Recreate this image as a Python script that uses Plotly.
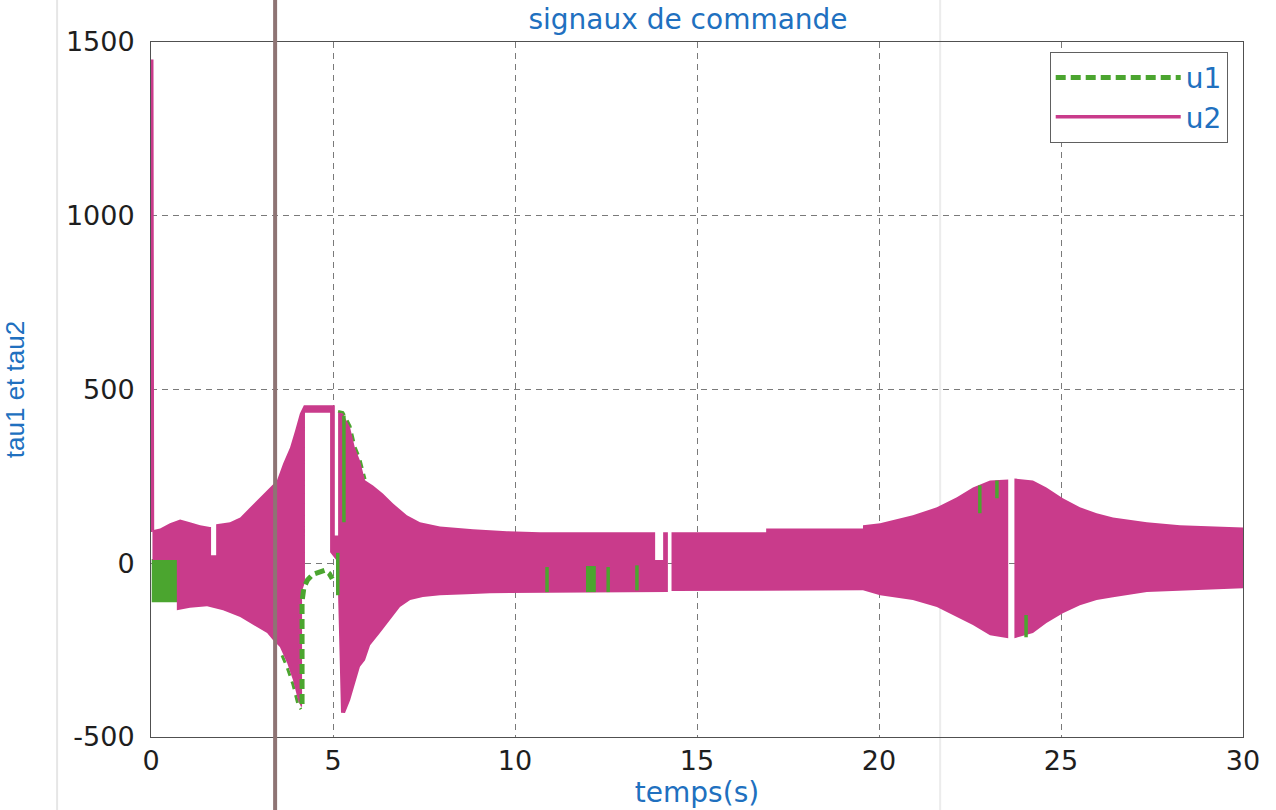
import plotly.graph_objects as go

# axis ticks
x_ticks = [0, 5, 10, 15, 20, 25, 30]
y_ticks = [-500, 0, 500, 1000, 1500]

# u2: envelope of the switching band, block 1 (0 -> 14.2 s)
u2_a_up_t = [0.04, 0.25, 0.52, 0.80, 1.07, 1.35, 1.62, 1.65, 1.65, 1.79, 1.79, 2.17, 2.45, 2.72, 2.99,
             3.27, 3.46, 3.63, 3.82, 3.96, 4.09, 4.20, 5.05, 5.05, 5.14, 5.14, 5.27, 5.47, 5.60, 5.74,
             5.88, 6.10, 6.37, 6.65, 7.03, 7.39, 7.94, 8.85, 9.78, 10.69, 13.85, 13.85, 14.07, 14.07, 14.20]
u2_a_up_v = [95, 100, 115, 126, 118, 109, 104, 104, 23, 23, 112, 118, 132, 161, 190,
             218, 238, 287, 333, 382, 431, 455, 455, 80, 80, 434, 431, 391, 333, 296,
             239, 224, 201, 172, 138, 118, 106, 98, 92, 89, 89, 9, 9, 89, 89]
u2_a_lo_t = [0.04, 0.71, 0.71, 1.07, 1.54, 1.98, 2.45, 2.91, 3.19, 3.35, 3.54, 3.74, 3.90, 4.04, 4.12,
             4.15, 4.15, 4.23, 4.23, 4.92, 4.92, 5.12, 5.14, 5.22, 5.33, 5.47, 5.60, 5.74, 5.88, 6.02,
             6.29, 6.57, 6.84, 7.12, 7.47, 7.94, 8.68, 9.31, 10.69, 14.20]
u2_a_lo_v = [9, 9, -135, -128, -124, -135, -155, -184, -201, -221, -241, -287, -336, -394, -413,
             -413, -80, -55, 433, 433, 32, 5, -92, -430, -431, -394, -345, -298, -279, -236,
             -201, -164, -126, -106, -97, -92, -89, -86, -86, -83]

# u2: block 2 (14.3 -> 23.55 s)
u2_b_up_t = [14.30, 16.90, 16.90, 19.56, 19.56, 20.03, 20.93, 21.59, 22.14, 22.58, 23.05, 23.55]
u2_b_up_v = [89, 89, 100, 100, 109, 115, 138, 161, 190, 218, 238, 241]
u2_b_lo_t = [14.30, 19.56, 20.03, 20.93, 21.59, 22.14, 22.58, 23.05, 23.55]
u2_b_lo_v = [-80, -78, -92, -106, -126, -155, -178, -207, -216]

# u2: block 3 (23.72 -> 30 s)
u2_c_up_t = [23.72, 24.23, 24.60, 25.05, 25.52, 25.98, 26.43, 27.36, 28.27, 29.18, 30.00]
u2_c_up_v = [244, 238, 218, 187, 161, 144, 132, 118, 109, 106, 103]
u2_c_lo_t = [23.72, 24.23, 24.60, 25.05, 25.52, 25.98, 26.43, 27.36, 28.27, 30.00]
u2_c_lo_v = [-216, -201, -172, -144, -121, -106, -98, -83, -78, -72]

# u2: initial peak
u2_spike_t = [0.0, 0.02, 0.04]
u2_spike_v = [90, 1450, 95]

# u1: band at start-up
u1_a_t = [0.02, 0.72]
u1_a_hi = [12, 12]
u1_a_lo = [-112, -112]

# u1: edges sticking out of the u2 band
u1_edge1_t = [3.60, 3.74, 3.90, 4.04, 4.12]
u1_edge1_v = [-265, -300, -349, -407, -420]
u1_edge2_t = [5.14, 5.27, 5.47, 5.60, 5.74, 5.88]
u1_edge2_v = [437, 434, 394, 336, 299, 242]

# u1: trajectory while u2 is saturated
u1_curve_t = [4.15, 4.15, 4.20, 4.30, 4.45, 4.62, 4.78, 4.90, 4.98]
u1_curve_v = [-405, -110, -70, -48, -32, -24, -20, -30, -45]

# u1: short excursions visible over u2
u1_frag_t = [5.13, 5.30, 10.88, 12.56, 13.35, 22.77, 23.24, 24.04]
u1_frag_lo = [-92, 118, -83, -83, -78, 144, 187, -213]
u1_frag_hi = [30, 425, -11, -11, -6, 224, 238, -149]

u1_b_t = [11.95, 12.22]
u1_b_hi = [-8, -8]
u1_b_lo = [-83, -83]

MAGENTA = "#c93b8b"
GREEN = "#4ba52f"
BLUE = "#2070bf"
TXT = "#1e1e1e"
FONT = "DejaVu Sans"


def band(up_t, up_v, lo_t, lo_v):
    xs = list(up_t) + list(lo_t)[::-1] + [up_t[0]]
    ys = list(up_v) + list(lo_v)[::-1] + [up_v[0]]
    return xs, ys


def join(*polys):
    xs, ys = [], []
    for px, py in polys:
        if xs:
            xs.append(None)
            ys.append(None)
        xs += px
        ys += py
    return xs, ys


fig = go.Figure()

# u1 start-up band (under u2)
bx, by = band(u1_a_t, u1_a_hi, u1_a_t, u1_a_lo)
fig.add_trace(go.Scatter(x=bx, y=by, mode="lines", fill="toself", fillcolor=GREEN,
                         line=dict(width=0, color=GREEN), showlegend=False, legendgroup="u1",
                         hoverinfo="skip"))

# u1 edges (under u2)
ex, ey = join((u1_edge1_t, u1_edge1_v), (u1_edge2_t, u1_edge2_v))
fig.add_trace(go.Scatter(x=ex, y=ey, mode="lines", line=dict(color=GREEN, width=3, dash="8px,6px"),
                         showlegend=False, legendgroup="u1", hoverinfo="skip"))

# u2 switching band
ux, uy = join(band(u2_a_up_t, u2_a_up_v, u2_a_lo_t, u2_a_lo_v),
              band(u2_b_up_t, u2_b_up_v, u2_b_lo_t, u2_b_lo_v),
              band(u2_c_up_t, u2_c_up_v, u2_c_lo_t, u2_c_lo_v))
fig.add_trace(go.Scatter(x=ux, y=uy, mode="lines", fill="toself", fillcolor=MAGENTA,
                         line=dict(width=0, color=MAGENTA), showlegend=False, legendgroup="u2",
                         hoverinfo="skip"))

# u2 initial peak
fig.add_trace(go.Scatter(x=u2_spike_t, y=u2_spike_v, mode="lines", name="u2",
                         line=dict(color=MAGENTA, width=3.5), legendgroup="u2", legendrank=2))

# u1 trajectory
fig.add_trace(go.Scatter(x=u1_curve_t, y=u1_curve_v, mode="lines", name="u1",
                         line=dict(color=GREEN, width=5, dash="10px,5px"), legendgroup="u1",
                         legendrank=1))

# u1 excursions over u2
fx, fy = [], []
for t, lo, hi in zip(u1_frag_t, u1_frag_lo, u1_frag_hi):
    fx += [t, t, None]
    fy += [lo, hi, None]
fig.add_trace(go.Scatter(x=fx, y=fy, mode="lines", line=dict(color=GREEN, width=3.5),
                         showlegend=False, legendgroup="u1", hoverinfo="skip"))
b2x, b2y = band(u1_b_t, u1_b_hi, u1_b_t, u1_b_lo)
fig.add_trace(go.Scatter(x=b2x, y=b2y, mode="lines", fill="toself", fillcolor=GREEN,
                         line=dict(width=0, color=GREEN), showlegend=False, legendgroup="u1",
                         hoverinfo="skip"))

axis_common = dict(
    showgrid=True, gridcolor="#7a7a7a", gridwidth=1, griddash="6px,5px",
    showline=True, mirror=True, linecolor="#505050", linewidth=1,
    zeroline=False, ticks="", automargin=False,
    tickfont=dict(family=FONT, size=27, color=TXT),
)

fig.update_xaxes(range=[0, 30], tickvals=x_ticks, ticktext=[str(v) for v in x_ticks],
                 ticklabelstandoff=0,
                 title=dict(text="temps(s)", font=dict(family=FONT, size=28, color=BLUE), standoff=0),
                 **axis_common)
fig.update_yaxes(range=[-500, 1500], tickvals=y_ticks, ticktext=[str(v) for v in y_ticks],
                 ticklabelstandoff=10,
                 title=dict(text="tau1 et tau2", font=dict(family="Liberation Sans", size=26, color=BLUE),
                            standoff=34),
                 **axis_common)

fig.update_layout(
    width=1276, height=810,
    margin=dict(l=151, r=33, t=42, b=73),
    paper_bgcolor="white", plot_bgcolor="white",
    title=dict(text="signaux de commande", x=0.4918, xanchor="center", xref="paper",
               y=1, yref="paper", yanchor="bottom", pad=dict(b=13),
               font=dict(family=FONT, size=28, color=BLUE)),
    legend=dict(x=0.986, y=0.986, xanchor="right", yanchor="top",
                bordercolor="#606060", borderwidth=1, bgcolor="white",
                font=dict(family=FONT, size=28, color=BLUE), itemwidth=125,
                tracegroupgap=0),
    shapes=[
        dict(type="line", xref="paper", yref="paper", x0=-0.086, x1=-0.086, y0=-0.11, y1=1.07,
             line=dict(color="#e6e6e6", width=2), layer="below"),
        dict(type="line", xref="x", yref="paper", x0=21.68, x1=21.68, y0=-0.11, y1=1.07,
             line=dict(color="#ececec", width=2), layer="below"),
        dict(type="line", xref="x", yref="paper", x0=3.41, x1=3.41, y0=-0.11, y1=1.07,
             line=dict(color="#8e7474", width=4), layer="above"),
    ],
)

fig.write_html("out.html")
